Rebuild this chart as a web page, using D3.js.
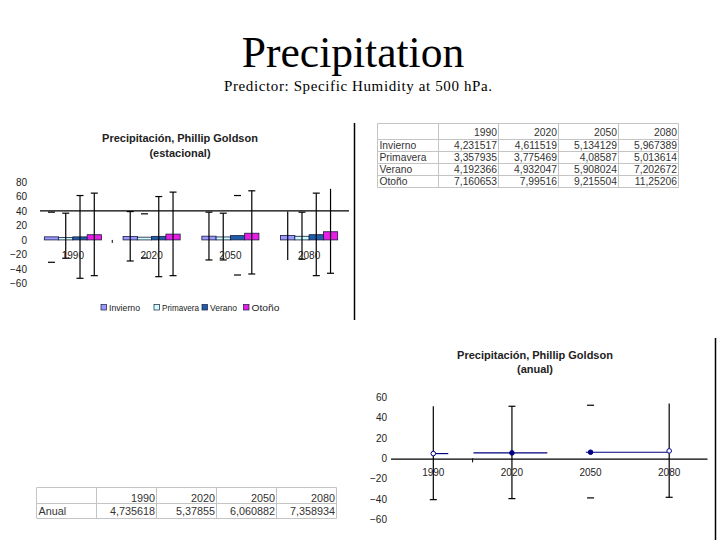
<!DOCTYPE html>
<html><head><meta charset="utf-8">
<script src="https://cdn.jsdelivr.net/npm/d3@7"></script>
<style>body{margin:0;background:#fff}svg{display:block}</style>
</head><body><svg id="c" width="720" height="540"></svg>
<script>
// ---------- data ----------
const years = ["1990", "2020", "2050", "2080"];
const seasons = ["Invierno", "Primavera", "Verano", "Otoño"];
const invierno  = [4.231517, 4.611519, 5.134129, 5.967389];
const primavera = [3.357935, 3.775469, 4.08587, 5.013614];
const verano    = [4.192366, 4.932047, 5.908024, 7.202672];
const otono     = [7.160653, 7.99516, 9.215504, 11.25206];
const inviernoHigh  = [38.2, 39.0, 38.2, 39.0];
const inviernoLow   = [-30.8, -29.0, -27.6, -27.6];
const primaveraHigh = [36.8, 35.9, 36.8, 38.2];
const primaveraLow  = [-25.2, -24.8, -27.6, -26.6];
const veranoHigh    = [61.1, 59.7, 61.1, 64.4];
const veranoLow     = [-52.8, -50.6, -48.3, -49.2];
const otonoHigh     = [64.4, 65.8, 67.6, 70.3];
const otonoLow      = [-49.2, -49.2, -46.9, -45.9];
const anual      = [4.735618, 5.37855, 6.060882, 7.358934];
const anualHigh  = [51.2, 51.2, 52.2, 53.9];
const anualLow   = [-40.5, -39.5, -38.8, -38.2];
const anualXMinus = [0, 0.49, 0.06, 0];     // horizontal error, in category widths
const anualXPlus  = [0.19, 0.45, 0.98, 0];
const seasonalTicks = [80, 60, 40, 20, 0, -20, -40, -60];
const annualTicks   = [60, 40, 20, 0, -20, -40, -60];

// ---------- styling / rendering quirks ----------
const seasonColors = ["#9999ff", "#ccffff", "#1f5ea8", "#e61ee6"];
const hiddenStem = new Set(["Invierno-1990", "Primavera-2020", "Verano-2050"]);
const hiddenCap = new Set(["Invierno-2080-top", "Invierno-2080-bottom", "Otoño-2080-top"]);
const anualHiddenStem = new Set(["2050"]);
const anualHiddenTopCap = new Set(["1990", "2080"]);
const anualHollow = new Set(["1990", "2080"]);

const svg = d3.select("#c");
const SANS = "'Liberation Sans', Arial, sans-serif";
const SERIF = "'Liberation Serif', 'Times New Roman', serif";
const fmt = v => String(v).replace(".", ",");

// ---------- slide titles ----------
svg.append("text").attr("x", 353).attr("y", 66.5).attr("text-anchor", "middle")
  .attr("font-family", SERIF).attr("font-size", 43.5).attr("fill", "#000").text("Precipitation");
svg.append("text").attr("x", 358).attr("y", 90.5).attr("text-anchor", "middle")
  .attr("font-family", SERIF).attr("font-size", 15).attr("fill", "#000")
  .attr("textLength", 268).attr("lengthAdjust", "spacing")
  .text("Predictor: Specific Humidity at 500 hPa.");

// ---------- seasonal chart ----------
const g1 = svg.append("g");
const seriesVals = [invierno, primavera, verano, otono];
const seriesHigh = [inviernoHigh, primaveraHigh, veranoHigh, otonoHigh];
const seriesLow  = [inviernoLow, primaveraLow, veranoLow, otonoLow];

const x0 = d3.scaleBand().domain(years).range([33.5, 348.5]).paddingInner(0.275).paddingOuter(0.1375);
const x1 = d3.scaleBand().domain(seasons).range([0, x0.bandwidth()]);
const y1 = d3.scaleLinear().domain([-60, 80]).range([283.5, 181.8]);

g1.append("text").attr("x", 180).attr("y", 138).attr("text-anchor", "middle").attr("dominant-baseline", "central")
  .attr("font-family", SANS).attr("font-weight", "bold").attr("font-size", 11).attr("fill", "#222")
  .text("Precipitación, Phillip Goldson");
g1.append("text").attr("x", 180).attr("y", 153).attr("text-anchor", "middle").attr("dominant-baseline", "central")
  .attr("font-family", SANS).attr("font-weight", "bold").attr("font-size", 11).attr("fill", "#222")
  .text("(estacional)");

const ax1 = g1.append("g").attr("transform", "translate(29,0)")
  .call(d3.axisLeft(y1).tickValues(seasonalTicks).tickSize(0).tickPadding(2));
ax1.select(".domain").remove();
ax1.selectAll("text").attr("font-family", SANS).attr("font-size", 10).attr("fill", "#222");

// horizontal line at 40
g1.append("line").attr("x1", 40).attr("x2", 349).attr("y1", y1(40)).attr("y2", y1(40))
  .attr("stroke", "#000").attr("stroke-width", 1.2);

// bars
const barData = [];
seasons.forEach((s, si) => years.forEach((yr, yi) => barData.push({
  s, si, yr, v: seriesVals[si][yi], hi: seriesHigh[si][yi], lo: seriesLow[si][yi]})));
g1.selectAll("rect.bar").data(barData).join("rect").attr("class", "bar")
  .attr("x", d => x0(d.yr) + x1(d.s))
  .attr("width", x1.bandwidth())
  .attr("y", d => y1(d.v)).attr("height", d => y1(0) - y1(d.v))
  .attr("fill", d => seasonColors[d.si]).attr("stroke", "#1a1a40").attr("stroke-width", 0.8);

// error bars
barData.forEach(d => {
  const cx = x0(d.yr) + x1(d.s) + x1.bandwidth() / 2;
  const key = d.s + "-" + d.yr;
  if (!hiddenStem.has(key))
    g1.append("line").attr("x1", cx).attr("x2", cx).attr("y1", y1(d.hi)).attr("y2", y1(d.lo))
      .attr("stroke", "#000").attr("stroke-width", 1.2);
  [["top", d.hi], ["bottom", d.lo]].forEach(([p, v]) => {
    if (!hiddenCap.has(key + "-" + p))
      g1.append("line").attr("x1", cx - 3.5).attr("x2", cx + 3.5).attr("y1", y1(v)).attr("y2", y1(v))
        .attr("stroke", "#000").attr("stroke-width", 1.2);
  });
});

// category labels
g1.selectAll("text.cat").data(years).join("text").attr("class", "cat")
  .attr("x", d => x0(d) + x0.bandwidth() / 2).attr("y", 255)
  .attr("text-anchor", "middle").attr("dominant-baseline", "central")
  .attr("font-family", SANS).attr("font-size", 10).attr("fill", "#222").text(d => d);
// single category tick
const tickX1 = x0(years[1]) - x0.step() * x0.paddingInner() / 2;
g1.append("line").attr("x1", tickX1).attr("x2", tickX1).attr("y1", y1(0)).attr("y2", y1(0) + 3)
  .attr("stroke", "#000").attr("stroke-width", 1);

// legend
const legendX = [101, 154, 202, 243.5];
const legendW = [31, 37, 27, 28];
seasons.forEach((s, i) => {
  g1.append("rect").attr("x", legendX[i]).attr("y", 304.5).attr("width", 5.5).attr("height", 5.5)
    .attr("fill", seasonColors[i]).attr("stroke", "#1a1a40").attr("stroke-width", 0.7);
  g1.append("text").attr("x", legendX[i] + 8).attr("y", 307.8).attr("dominant-baseline", "central")
    .attr("font-family", SANS).attr("font-size", 9.5).attr("fill", "#222")
    .attr("textLength", legendW[i]).attr("lengthAdjust", "spacingAndGlyphs").text(s);
});
// right frame line
svg.append("line").attr("x1", 354.5).attr("x2", 354.5).attr("y1", 123).attr("y2", 320)
  .attr("stroke", "#000").attr("stroke-width", 1.5);

// ---------- tables ----------
function table(x, y, colW, firstW, rowHeights, headerOffset, header, rows, fontSize) {
  const tg = svg.append("g");
  const colX = [x, x + firstW];
  for (let i = 1; i < header.length; i++) colX.push(colX[colX.length - 1] + colW);
  const rowY = [y];
  rowHeights.forEach(h => rowY.push(rowY[rowY.length - 1] + h));
  rowY.forEach(yy => tg.append("line").attr("x1", colX[0]).attr("x2", colX[colX.length - 1])
    .attr("y1", yy).attr("y2", yy).attr("stroke", "#c4c4c4").attr("stroke-width", 1));
  colX.forEach(xx => tg.append("line").attr("x1", xx).attr("x2", xx)
    .attr("y1", rowY[0]).attr("y2", rowY[rowY.length - 1]).attr("stroke", "#c4c4c4").attr("stroke-width", 1));
  const allRows = [header].concat(rows);
  allRows.forEach((r, ri) => {
    const cy = ri === 0 ? rowY[1] - headerOffset : (rowY[ri] + rowY[ri + 1]) / 2;
    r.forEach((cell, ci) => {
      if (cell === "") return;
      const t = tg.append("text").attr("y", cy).attr("dominant-baseline", "central")
        .attr("font-family", SANS).attr("font-size", fontSize).attr("fill", "#333").text(cell);
      if (ci === 0) t.attr("x", colX[0] + 2);
      else t.attr("x", colX[ci + 1] - 1.5).attr("text-anchor", "end");
    });
  });
}
table(377.5, 123.5, 60, 61, [16, 12, 12, 12, 12], 7,
  [""].concat(years),
  seasons.map((s, si) => [s].concat(seriesVals[si].map(fmt))), 10.3);

// ---------- annual chart ----------
const g2 = svg.append("g");
const xa = d3.scaleBand().domain(years).range([394, 708.5]);
const ya = d3.scaleLinear().domain([-60, 60]).range([519.5, 397.3]);

g2.append("text").attr("x", 535).attr("y", 355).attr("text-anchor", "middle").attr("dominant-baseline", "central")
  .attr("font-family", SANS).attr("font-weight", "bold").attr("font-size", 11).attr("fill", "#222")
  .text("Precipitación, Phillip Goldson");
g2.append("text").attr("x", 535).attr("y", 368.5).attr("text-anchor", "middle").attr("dominant-baseline", "central")
  .attr("font-family", SANS).attr("font-weight", "bold").attr("font-size", 11).attr("fill", "#222")
  .text("(anual)");

const ax2 = g2.append("g").attr("transform", "translate(389,0)")
  .call(d3.axisLeft(ya).tickValues(annualTicks).tickSize(0).tickPadding(2));
ax2.select(".domain").remove();
ax2.selectAll("text").attr("font-family", SANS).attr("font-size", 10).attr("fill", "#222");

g2.append("line").attr("x1", 391).attr("x2", 707.5).attr("y1", ya(0) + 0.8).attr("y2", ya(0) + 0.8)
  .attr("stroke", "#000").attr("stroke-width", 1.2);
const tickX2 = xa(years[1]);
g2.append("line").attr("x1", tickX2).attr("x2", tickX2).attr("y1", ya(0)).attr("y2", ya(0) + 4)
  .attr("stroke", "#000").attr("stroke-width", 1);

g2.selectAll("text.cat").data(years).join("text").attr("class", "cat")
  .attr("x", d => xa(d) + xa.bandwidth() / 2).attr("y", 472)
  .attr("text-anchor", "middle").attr("dominant-baseline", "central")
  .attr("font-family", SANS).attr("font-size", 10).attr("fill", "#222").text(d => d);

years.forEach((yr, i) => {
  const cx = xa(yr) + xa.bandwidth() / 2;
  if (!anualHiddenStem.has(yr))
    g2.append("line").attr("x1", cx).attr("x2", cx).attr("y1", ya(anualHigh[i])).attr("y2", ya(anualLow[i]))
      .attr("stroke", "#000").attr("stroke-width", 1.2);
  if (!anualHiddenTopCap.has(yr))
    g2.append("line").attr("x1", cx - 3.5).attr("x2", cx + 3.5).attr("y1", ya(anualHigh[i])).attr("y2", ya(anualHigh[i]))
      .attr("stroke", "#000").attr("stroke-width", 1.2);
  g2.append("line").attr("x1", cx - 3.5).attr("x2", cx + 3.5).attr("y1", ya(anualLow[i])).attr("y2", ya(anualLow[i]))
    .attr("stroke", "#000").attr("stroke-width", 1.2);
  if (anualXMinus[i] + anualXPlus[i] > 0)
    g2.append("line").attr("x1", cx - anualXMinus[i] * xa.step()).attr("x2", cx + anualXPlus[i] * xa.step())
      .attr("y1", ya(anual[i])).attr("y2", ya(anual[i])).attr("stroke", "#000080").attr("stroke-width", 1.2);
  g2.append("circle").attr("cx", cx).attr("cy", ya(anual[i])).attr("r", 2.3)
    .attr("fill", anualHollow.has(yr) ? "#fff" : "#000080").attr("stroke", "#000080").attr("stroke-width", 1);
});
svg.append("line").attr("x1", 715.5).attr("x2", 715.5).attr("y1", 338).attr("y2", 540)
  .attr("stroke", "#000").attr("stroke-width", 1.5);

table(36.5, 487.5, 60, 60, [16, 15], 6, [""].concat(years), [["Anual"].concat(anual.map(fmt))], 10.8);
</script></body></html>
